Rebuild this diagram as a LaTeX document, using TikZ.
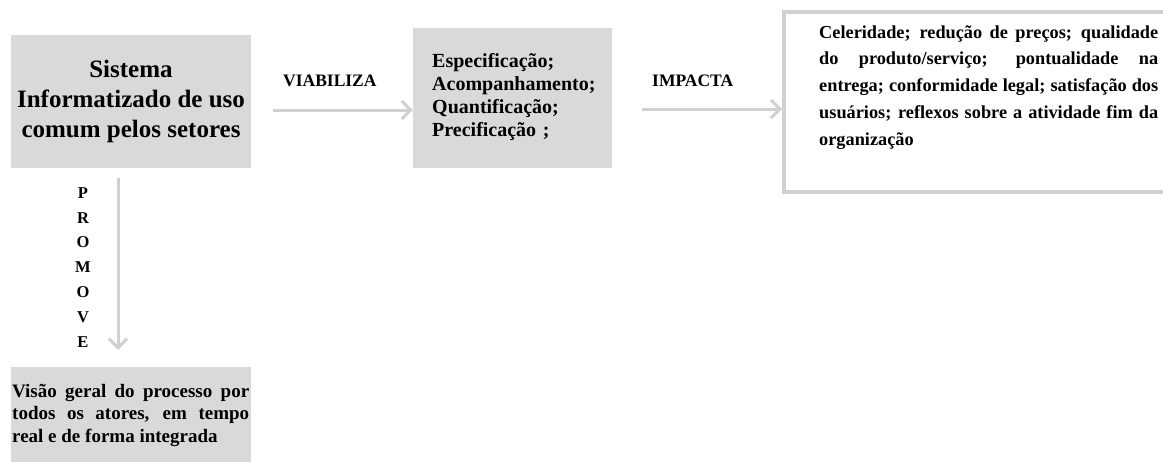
\documentclass[tikz,border=0pt]{standalone}
\usepackage{fontspec}
\setmainfont{Liberation Serif}
\usetikzlibrary{arrows.meta,calc}
\definecolor{boxgray}{HTML}{D9D9D9}
\definecolor{linegray}{HTML}{D0D0D0}
\begin{document}
\begin{tikzpicture}[x=1pt,y=-1pt,
  graybox/.style={fill=boxgray, draw=none, inner sep=0pt},
  framebox/.style={draw=linegray, line width=4pt, fill=white, inner sep=0pt},
  conn/.style={draw=linegray, line width=3pt, -{Straight Barb[length=9pt,width=18pt]}},
  lbl/.style={inner sep=0pt, font=\fontsize{17.5}{20}\selectfont\bfseries},
  boxtext/.style={inner sep=0pt, anchor=north west},
  justtext/.style={boxtext, align=justify}]
\useasboundingbox (0,0) rectangle (1163,461);
% boxes
\node[graybox, minimum width=240pt, minimum height=133pt, align=center,
      font=\fontsize{25}{30}\selectfont\bfseries] (b1) at (131,101.5)
      {Sistema\\Informatizado de uso\\comum pelos setores};
\node[graybox, minimum width=199pt, minimum height=140pt] (b2) at (512.5,98) {};
\node[framebox, minimum width=416pt, minimum height=180pt] (b3) at (992,102) {};
\node[graybox, minimum width=240pt, minimum height=104pt] (b4) at (131,419) {};
% box texts
\node[boxtext, text width=175pt, align=left, font=\fontsize{20}{23}\selectfont\bfseries] (t2) at (432,51)
  {\noindent\rule{0pt}{16pt}Especificação;\\Acompanhamento;\\Quantificação;\\Precificação ;};
\node[justtext, text width=339pt, font=\fontsize{18.3}{26.7}\selectfont\bfseries] (t3) at (819,22)
  {\tolerance=10000\hbadness=10000\hyphenpenalty=10000\exhyphenpenalty=10000\noindent\rule{0pt}{16pt}Celeridade; redução de preços; qualidade\linebreak
   do produto/serviço; pontualidade na\linebreak
   entrega; conformidade legal; satisfação dos\linebreak
   usuários; reflexos sobre a atividade fim da\linebreak
   organização};
\node[justtext, text width=237pt, font=\fontsize{19}{22.5}\selectfont\bfseries] (t4) at (12,381)
  {\tolerance=10000\hbadness=10000\hyphenpenalty=10000\exhyphenpenalty=10000\noindent\rule{0pt}{16pt}Visão geral do processo por\linebreak
   todos os atores, em tempo\linebreak
   real e de forma integrada};
% labels
\node[lbl, anchor=base west] (l1) at (283,86) {VIABILIZA};
\node[lbl, anchor=base west] (l2) at (652,86) {IMPACTA};
\node[inner sep=0pt, anchor=north, align=center, font=\fontsize{16.5}{24.8}\selectfont\bfseries] (pv) at (83,182)
  {\rule{0pt}{16pt}P\\R\\O\\M\\O\\V\\E};
% connectors
\coordinate (a1s) at ($(b1.east)+(22,8.5)$);
\draw[conn] (a1s) -- (a1s -| b2.west);
\coordinate (a2s) at ($(b2.east)+(30,11)$);
\draw[conn] (a2s) -- (a2s -| b3.west);
\coordinate (a3s) at ($(b1.south)+(-13,10)$);
\coordinate (a3e) at ($(a3s |- b4.north)+(0,-17)$);
\draw[conn] (a3s) -- (a3e);
\end{tikzpicture}
\end{document}
